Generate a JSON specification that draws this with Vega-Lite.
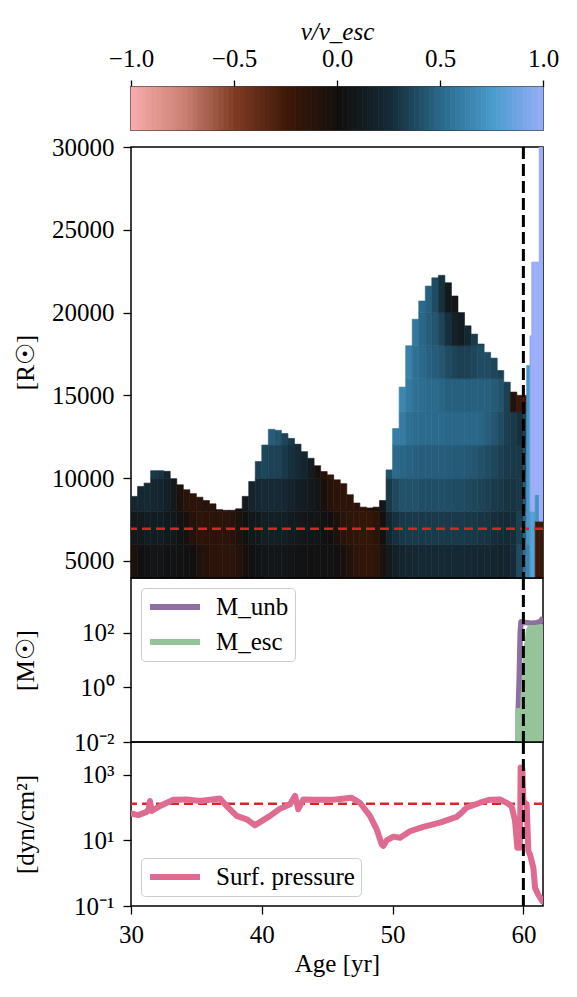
{
"$schema": "https://vega.github.io/schema/vega-lite/v6.json",
"padding": {"left": 12, "top": 18, "right": 5, "bottom": 5},
"spacing": 17,
"bounds": "flush",
"config": {
 "font": "Liberation Serif",
 "view": {"stroke": "black", "strokeWidth": 1.5},
 "axis": {"labelFontSize": 25, "titleFontSize": 25, "labelColor": "black", "titleColor": "black", "tickColor": "black", "tickWidth": 1.3, "tickSize": 8, "domain": false, "grid": false, "titleFontWeight": "normal", "labelPadding": 9, "labelFlush": false, "labelFont": "Liberation Serif", "titleFont": "Liberation Serif"},
 "legend": {"labelFontSize": 25, "labelFont": "Liberation Serif", "labelColor": "black"}
},
"datasets": {
 "cbar": [
{"a":-1,"b":-0.975},{"a":-0.975,"b":-0.95},{"a":-0.95,"b":-0.925},{"a":-0.925,"b":-0.9},{"a":-0.9,"b":-0.875},{"a":-0.875,"b":-0.85},{"a":-0.85,"b":-0.825},{"a":-0.825,"b":-0.8},{"a":-0.8,"b":-0.775},{"a":-0.775,"b":-0.75},
{"a":-0.75,"b":-0.725},{"a":-0.725,"b":-0.7},{"a":-0.7,"b":-0.675},{"a":-0.675,"b":-0.65},{"a":-0.65,"b":-0.625},{"a":-0.625,"b":-0.6},{"a":-0.6,"b":-0.575},{"a":-0.575,"b":-0.55},{"a":-0.55,"b":-0.525},{"a":-0.525,"b":-0.5},
{"a":-0.5,"b":-0.475},{"a":-0.475,"b":-0.45},{"a":-0.45,"b":-0.425},{"a":-0.425,"b":-0.4},{"a":-0.4,"b":-0.375},{"a":-0.375,"b":-0.35},{"a":-0.35,"b":-0.325},{"a":-0.325,"b":-0.3},{"a":-0.3,"b":-0.275},{"a":-0.275,"b":-0.25},
{"a":-0.25,"b":-0.225},{"a":-0.225,"b":-0.2},{"a":-0.2,"b":-0.175},{"a":-0.175,"b":-0.15},{"a":-0.15,"b":-0.125},{"a":-0.125,"b":-0.1},{"a":-0.1,"b":-0.075},{"a":-0.075,"b":-0.05},{"a":-0.05,"b":-0.025},{"a":-0.025,"b":0},
{"a":0,"b":0.025},{"a":0.025,"b":0.05},{"a":0.05,"b":0.075},{"a":0.075,"b":0.1},{"a":0.1,"b":0.125},{"a":0.125,"b":0.15},{"a":0.15,"b":0.175},{"a":0.175,"b":0.2},{"a":0.2,"b":0.225},{"a":0.225,"b":0.25},
{"a":0.25,"b":0.275},{"a":0.275,"b":0.3},{"a":0.3,"b":0.325},{"a":0.325,"b":0.35},{"a":0.35,"b":0.375},{"a":0.375,"b":0.4},{"a":0.4,"b":0.425},{"a":0.425,"b":0.45},{"a":0.45,"b":0.475},{"a":0.475,"b":0.5},
{"a":0.5,"b":0.525},{"a":0.525,"b":0.55},{"a":0.55,"b":0.575},{"a":0.575,"b":0.6},{"a":0.6,"b":0.625},{"a":0.625,"b":0.65},{"a":0.65,"b":0.675},{"a":0.675,"b":0.7},{"a":0.7,"b":0.725},{"a":0.725,"b":0.75},
{"a":0.75,"b":0.775},{"a":0.775,"b":0.8},{"a":0.8,"b":0.825},{"a":0.825,"b":0.85},{"a":0.85,"b":0.875},{"a":0.875,"b":0.9},{"a":0.9,"b":0.925},{"a":0.925,"b":0.95},{"a":0.95,"b":0.975},{"a":0.975,"b":1}
 ],
 "heat": [
{"a":30,"b":30.5,"r":3970,"s":6000,"v":-0.06},{"a":30,"b":30.5,"r":6000,"s":8000,"v":0.08},{"a":30,"b":30.5,"r":8000,"s":8900,"v":0.2},
{"a":30.5,"b":31,"r":3970,"s":6000,"v":0.02},{"a":30.5,"b":31,"r":6000,"s":8000,"v":0.1},{"a":30.5,"b":31,"r":8000,"s":9500,"v":0.22},
{"a":31,"b":31.5,"r":3970,"s":6000,"v":0.04},{"a":31,"b":31.5,"r":6000,"s":8000,"v":0.12},{"a":31,"b":31.5,"r":8000,"s":9700,"v":0.24},
{"a":31.5,"b":32,"r":3970,"s":6000,"v":0.05},{"a":31.5,"b":32,"r":6000,"s":8000,"v":0.12},{"a":31.5,"b":32,"r":8000,"s":10000,"v":0.22},{"a":31.5,"b":32,"r":10000,"s":10450,"v":0.3},
{"a":32,"b":32.5,"r":3970,"s":6000,"v":0.05},{"a":32,"b":32.5,"r":6000,"s":8000,"v":0.12},{"a":32,"b":32.5,"r":8000,"s":10000,"v":0.2},{"a":32,"b":32.5,"r":10000,"s":10450,"v":0.28},
{"a":32.5,"b":33,"r":3970,"s":6000,"v":0.04},{"a":32.5,"b":33,"r":6000,"s":8000,"v":0.1},{"a":32.5,"b":33,"r":8000,"s":10000,"v":0.15},{"a":32.5,"b":33,"r":10000,"s":10413,"v":0.2},
{"a":33,"b":33.5,"r":3970,"s":6000,"v":0.04},{"a":33,"b":33.5,"r":6000,"s":8000,"v":0.08},{"a":33,"b":33.5,"r":8000,"s":9970,"v":0.1},
{"a":33.5,"b":34,"r":3970,"s":6000,"v":0.03},{"a":33.5,"b":34,"r":6000,"s":8000,"v":0.04},{"a":33.5,"b":34,"r":8000,"s":9600,"v":-0.05},
{"a":34,"b":34.5,"r":3970,"s":6000,"v":0.02},{"a":34,"b":34.5,"r":6000,"s":8000,"v":-0.04},{"a":34,"b":34.5,"r":8000,"s":9300,"v":-0.13},
{"a":34.5,"b":35,"r":3970,"s":6000,"v":0},{"a":34.5,"b":35,"r":6000,"s":8000,"v":-0.11},{"a":34.5,"b":35,"r":8000,"s":9064,"v":-0.15},
{"a":35,"b":35.5,"r":3970,"s":6000,"v":-0.07},{"a":35,"b":35.5,"r":6000,"s":8000,"v":-0.15},{"a":35,"b":35.5,"r":8000,"s":8850,"v":-0.14},
{"a":35.5,"b":36,"r":3970,"s":6000,"v":-0.11},{"a":35.5,"b":36,"r":6000,"s":8000,"v":-0.15},{"a":35.5,"b":36,"r":8000,"s":8650,"v":-0.12},
{"a":36,"b":36.5,"r":3970,"s":6000,"v":-0.15},{"a":36,"b":36.5,"r":6000,"s":8000,"v":-0.15},{"a":36,"b":36.5,"r":8000,"s":8450,"v":-0.12},
{"a":36.5,"b":37,"r":3970,"s":6000,"v":-0.15},{"a":36.5,"b":37,"r":6000,"s":8000,"v":-0.15},{"a":36.5,"b":37,"r":8000,"s":8100,"v":-0.1},
{"a":37,"b":37.5,"r":3970,"s":6000,"v":-0.15},{"a":37,"b":37.5,"r":6000,"s":8000,"v":-0.14},{"a":37,"b":37.5,"r":8000,"s":8060,"v":-0.08},
{"a":37.5,"b":38,"r":3970,"s":6000,"v":-0.14},{"a":37.5,"b":38,"r":6000,"s":8000,"v":-0.12},{"a":37.5,"b":38,"r":8000,"s":8060,"v":-0.06},
{"a":38,"b":38.5,"r":3970,"s":6000,"v":-0.11},{"a":38,"b":38.5,"r":6000,"s":8000,"v":-0.07},{"a":38,"b":38.5,"r":8000,"s":8150,"v":-0.03},
{"a":38.5,"b":39,"r":3970,"s":6000,"v":-0.04},{"a":38.5,"b":39,"r":6000,"s":8000,"v":0.02},{"a":38.5,"b":39,"r":8000,"s":8900,"v":0.1},
{"a":39,"b":39.5,"r":3970,"s":6000,"v":0.02},{"a":39,"b":39.5,"r":6000,"s":8000,"v":0.08},{"a":39,"b":39.5,"r":8000,"s":9800,"v":0.18},
{"a":39.5,"b":40,"r":3970,"s":6000,"v":0.04},{"a":39.5,"b":40,"r":6000,"s":8000,"v":0.1},{"a":39.5,"b":40,"r":8000,"s":10000,"v":0.22},{"a":39.5,"b":40,"r":10000,"s":11000,"v":0.33},
{"a":40,"b":40.5,"r":3970,"s":6000,"v":0.06},{"a":40,"b":40.5,"r":6000,"s":8000,"v":0.13},{"a":40,"b":40.5,"r":8000,"s":10000,"v":0.24},{"a":40,"b":40.5,"r":10000,"s":12000,"v":0.36},
{"a":40.5,"b":41,"r":3970,"s":6000,"v":0.06},{"a":40.5,"b":41,"r":6000,"s":8000,"v":0.14},{"a":40.5,"b":41,"r":8000,"s":10000,"v":0.24},{"a":40.5,"b":41,"r":10000,"s":12000,"v":0.34},{"a":40.5,"b":41,"r":12000,"s":12950,"v":0.45},
{"a":41,"b":41.5,"r":3970,"s":6000,"v":0.06},{"a":41,"b":41.5,"r":6000,"s":8000,"v":0.14},{"a":41,"b":41.5,"r":8000,"s":10000,"v":0.24},{"a":41,"b":41.5,"r":10000,"s":12000,"v":0.34},{"a":41,"b":41.5,"r":12000,"s":12890,"v":0.42},
{"a":41.5,"b":42,"r":3970,"s":6000,"v":0.06},{"a":41.5,"b":42,"r":6000,"s":8000,"v":0.13},{"a":41.5,"b":42,"r":8000,"s":10000,"v":0.21},{"a":41.5,"b":42,"r":10000,"s":12000,"v":0.3},{"a":41.5,"b":42,"r":12000,"s":12700,"v":0.35},
{"a":42,"b":42.5,"r":3970,"s":6000,"v":0.05},{"a":42,"b":42.5,"r":6000,"s":8000,"v":0.11},{"a":42,"b":42.5,"r":8000,"s":10000,"v":0.18},{"a":42,"b":42.5,"r":10000,"s":12000,"v":0.27},{"a":42,"b":42.5,"r":12000,"s":12400,"v":0.3},
{"a":42.5,"b":43,"r":3970,"s":6000,"v":0.04},{"a":42.5,"b":43,"r":6000,"s":8000,"v":0.09},{"a":42.5,"b":43,"r":8000,"s":10000,"v":0.14},{"a":42.5,"b":43,"r":10000,"s":12000,"v":0.24},{"a":42.5,"b":43,"r":12000,"s":12050,"v":0.24},
{"a":43,"b":43.5,"r":3970,"s":6000,"v":0.03},{"a":43,"b":43.5,"r":6000,"s":8000,"v":0.07},{"a":43,"b":43.5,"r":8000,"s":10000,"v":0.12},{"a":43,"b":43.5,"r":10000,"s":11600,"v":0.2},
{"a":43.5,"b":44,"r":3970,"s":6000,"v":0.03},{"a":43.5,"b":44,"r":6000,"s":8000,"v":0.06},{"a":43.5,"b":44,"r":8000,"s":10000,"v":0.09},{"a":43.5,"b":44,"r":10000,"s":11200,"v":0.12},
{"a":44,"b":44.5,"r":3970,"s":6000,"v":0.03},{"a":44,"b":44.5,"r":6000,"s":8000,"v":0.05},{"a":44,"b":44.5,"r":8000,"s":10000,"v":0.05},{"a":44,"b":44.5,"r":10000,"s":10750,"v":-0.04},
{"a":44.5,"b":45,"r":3970,"s":6000,"v":0.03},{"a":44.5,"b":45,"r":6000,"s":8000,"v":0.03},{"a":44.5,"b":45,"r":8000,"s":10000,"v":-0.04},{"a":44.5,"b":45,"r":10000,"s":10400,"v":-0.11},
{"a":45,"b":45.5,"r":3970,"s":6000,"v":0.03},{"a":45,"b":45.5,"r":6000,"s":8000,"v":-0.01},{"a":45,"b":45.5,"r":8000,"s":10000,"v":-0.11},{"a":45,"b":45.5,"r":10000,"s":10200,"v":-0.15},
{"a":45.5,"b":46,"r":3970,"s":6000,"v":0.01},{"a":45.5,"b":46,"r":6000,"s":8000,"v":-0.07},{"a":45.5,"b":46,"r":8000,"s":9900,"v":-0.15},
{"a":46,"b":46.5,"r":3970,"s":6000,"v":-0.04},{"a":46,"b":46.5,"r":6000,"s":8000,"v":-0.13},{"a":46,"b":46.5,"r":8000,"s":9667,"v":-0.15},
{"a":46.5,"b":47,"r":3970,"s":6000,"v":-0.09},{"a":46.5,"b":47,"r":6000,"s":8000,"v":-0.16},{"a":46.5,"b":47,"r":8000,"s":9000,"v":-0.15},
{"a":47,"b":47.5,"r":3970,"s":6000,"v":-0.15},{"a":47,"b":47.5,"r":6000,"s":8000,"v":-0.18},{"a":47,"b":47.5,"r":8000,"s":8500,"v":-0.15},
{"a":47.5,"b":48,"r":3970,"s":6000,"v":-0.18},{"a":47.5,"b":48,"r":6000,"s":8000,"v":-0.19},{"a":47.5,"b":48,"r":8000,"s":8250,"v":-0.15},
{"a":48,"b":48.5,"r":3970,"s":6000,"v":-0.19},{"a":48,"b":48.5,"r":6000,"s":8000,"v":-0.19},{"a":48,"b":48.5,"r":8000,"s":8200,"v":-0.12},
{"a":48.5,"b":49,"r":3970,"s":6000,"v":-0.16},{"a":48.5,"b":49,"r":6000,"s":8000,"v":-0.15},{"a":48.5,"b":49,"r":8000,"s":8250,"v":-0.07},
{"a":49,"b":49.5,"r":3970,"s":6000,"v":-0.05},{"a":49,"b":49.5,"r":6000,"s":8000,"v":-0.03},{"a":49,"b":49.5,"r":8000,"s":8650,"v":0.06},
{"a":49.5,"b":50,"r":3970,"s":6000,"v":0.1},{"a":49.5,"b":50,"r":6000,"s":8000,"v":0.2},{"a":49.5,"b":50,"r":8000,"s":10000,"v":0.3},{"a":49.5,"b":50,"r":10000,"s":10500,"v":0.4},
{"a":50,"b":50.5,"r":3970,"s":6000,"v":0.16},{"a":50,"b":50.5,"r":6000,"s":8000,"v":0.27},{"a":50,"b":50.5,"r":8000,"s":10000,"v":0.37},{"a":50,"b":50.5,"r":10000,"s":12000,"v":0.5},{"a":50,"b":50.5,"r":12000,"s":13000,"v":0.6},
{"a":50.5,"b":51,"r":3970,"s":6000,"v":0.2},{"a":50.5,"b":51,"r":6000,"s":8000,"v":0.3},{"a":50.5,"b":51,"r":8000,"s":10000,"v":0.4},{"a":50.5,"b":51,"r":10000,"s":12000,"v":0.48},{"a":50.5,"b":51,"r":12000,"s":14000,"v":0.58},{"a":50.5,"b":51,"r":14000,"s":15500,"v":0.64},
{"a":51,"b":51.5,"r":3970,"s":6000,"v":0.22},{"a":51,"b":51.5,"r":6000,"s":8000,"v":0.31},{"a":51,"b":51.5,"r":8000,"s":10000,"v":0.4},{"a":51,"b":51.5,"r":10000,"s":12000,"v":0.47},{"a":51,"b":51.5,"r":12000,"s":14000,"v":0.53},{"a":51,"b":51.5,"r":14000,"s":16000,"v":0.58},{"a":51,"b":51.5,"r":16000,"s":18000,"v":0.62},
{"a":51.5,"b":52,"r":3970,"s":6000,"v":0.22},{"a":51.5,"b":52,"r":6000,"s":8000,"v":0.31},{"a":51.5,"b":52,"r":8000,"s":10000,"v":0.4},{"a":51.5,"b":52,"r":10000,"s":12000,"v":0.46},{"a":51.5,"b":52,"r":12000,"s":14000,"v":0.51},{"a":51.5,"b":52,"r":14000,"s":16000,"v":0.53},{"a":51.5,"b":52,"r":16000,"s":18000,"v":0.53},{"a":51.5,"b":52,"r":18000,"s":19600,"v":0.57},
{"a":52,"b":52.5,"r":3970,"s":6000,"v":0.23},{"a":52,"b":52.5,"r":6000,"s":8000,"v":0.31},{"a":52,"b":52.5,"r":8000,"s":10000,"v":0.39},{"a":52,"b":52.5,"r":10000,"s":12000,"v":0.45},{"a":52,"b":52.5,"r":12000,"s":14000,"v":0.5},{"a":52,"b":52.5,"r":14000,"s":16000,"v":0.52},{"a":52,"b":52.5,"r":16000,"s":18000,"v":0.5},{"a":52,"b":52.5,"r":18000,"s":20000,"v":0.49},{"a":52,"b":52.5,"r":20000,"s":20700,"v":0.5},
{"a":52.5,"b":53,"r":3970,"s":6000,"v":0.23},{"a":52.5,"b":53,"r":6000,"s":8000,"v":0.31},{"a":52.5,"b":53,"r":8000,"s":10000,"v":0.39},{"a":52.5,"b":53,"r":10000,"s":12000,"v":0.45},{"a":52.5,"b":53,"r":12000,"s":14000,"v":0.5},{"a":52.5,"b":53,"r":14000,"s":16000,"v":0.5},{"a":52.5,"b":53,"r":16000,"s":18000,"v":0.47},{"a":52.5,"b":53,"r":18000,"s":20000,"v":0.45},{"a":52.5,"b":53,"r":20000,"s":21600,"v":0.46},
{"a":53,"b":53.5,"r":3970,"s":6000,"v":0.23},{"a":53,"b":53.5,"r":6000,"s":8000,"v":0.31},{"a":53,"b":53.5,"r":8000,"s":10000,"v":0.39},{"a":53,"b":53.5,"r":10000,"s":12000,"v":0.45},{"a":53,"b":53.5,"r":12000,"s":14000,"v":0.5},{"a":53,"b":53.5,"r":14000,"s":16000,"v":0.5},{"a":53,"b":53.5,"r":16000,"s":18000,"v":0.45},{"a":53,"b":53.5,"r":18000,"s":20000,"v":0.42},{"a":53,"b":53.5,"r":20000,"s":22100,"v":0.38},
{"a":53.5,"b":54,"r":3970,"s":6000,"v":0.23},{"a":53.5,"b":54,"r":6000,"s":8000,"v":0.31},{"a":53.5,"b":54,"r":8000,"s":10000,"v":0.39},{"a":53.5,"b":54,"r":10000,"s":12000,"v":0.45},{"a":53.5,"b":54,"r":12000,"s":14000,"v":0.5},{"a":53.5,"b":54,"r":14000,"s":16000,"v":0.48},{"a":53.5,"b":54,"r":16000,"s":18000,"v":0.42},{"a":53.5,"b":54,"r":18000,"s":20000,"v":0.35},{"a":53.5,"b":54,"r":20000,"s":22250,"v":0.27},
{"a":54,"b":54.5,"r":3970,"s":6000,"v":0.23},{"a":54,"b":54.5,"r":6000,"s":8000,"v":0.31},{"a":54,"b":54.5,"r":8000,"s":10000,"v":0.39},{"a":54,"b":54.5,"r":10000,"s":12000,"v":0.45},{"a":54,"b":54.5,"r":12000,"s":14000,"v":0.49},{"a":54,"b":54.5,"r":14000,"s":16000,"v":0.46},{"a":54,"b":54.5,"r":16000,"s":18000,"v":0.38},{"a":54,"b":54.5,"r":18000,"s":20000,"v":0.27},{"a":54,"b":54.5,"r":20000,"s":21800,"v":0.1},
{"a":54.5,"b":55,"r":3970,"s":6000,"v":0.23},{"a":54.5,"b":55,"r":6000,"s":8000,"v":0.31},{"a":54.5,"b":55,"r":8000,"s":10000,"v":0.38},{"a":54.5,"b":55,"r":10000,"s":12000,"v":0.44},{"a":54.5,"b":55,"r":12000,"s":14000,"v":0.49},{"a":54.5,"b":55,"r":14000,"s":16000,"v":0.46},{"a":54.5,"b":55,"r":16000,"s":18000,"v":0.35},{"a":54.5,"b":55,"r":18000,"s":20000,"v":0.16},{"a":54.5,"b":55,"r":20000,"s":21000,"v":0.05},
{"a":55,"b":55.5,"r":3970,"s":6000,"v":0.23},{"a":55,"b":55.5,"r":6000,"s":8000,"v":0.31},{"a":55,"b":55.5,"r":8000,"s":10000,"v":0.38},{"a":55,"b":55.5,"r":10000,"s":12000,"v":0.44},{"a":55,"b":55.5,"r":12000,"s":14000,"v":0.49},{"a":55,"b":55.5,"r":14000,"s":16000,"v":0.46},{"a":55,"b":55.5,"r":16000,"s":18000,"v":0.33},{"a":55,"b":55.5,"r":18000,"s":20000,"v":0.12},
{"a":55.5,"b":56,"r":3970,"s":6000,"v":0.23},{"a":55.5,"b":56,"r":6000,"s":8000,"v":0.3},{"a":55.5,"b":56,"r":8000,"s":10000,"v":0.37},{"a":55.5,"b":56,"r":10000,"s":12000,"v":0.43},{"a":55.5,"b":56,"r":12000,"s":14000,"v":0.49},{"a":55.5,"b":56,"r":14000,"s":16000,"v":0.46},{"a":55.5,"b":56,"r":16000,"s":18000,"v":0.34},{"a":55.5,"b":56,"r":18000,"s":19200,"v":0.22},
{"a":56,"b":56.5,"r":3970,"s":6000,"v":0.22},{"a":56,"b":56.5,"r":6000,"s":8000,"v":0.3},{"a":56,"b":56.5,"r":8000,"s":10000,"v":0.36},{"a":56,"b":56.5,"r":10000,"s":12000,"v":0.42},{"a":56,"b":56.5,"r":12000,"s":14000,"v":0.49},{"a":56,"b":56.5,"r":14000,"s":16000,"v":0.46},{"a":56,"b":56.5,"r":16000,"s":18000,"v":0.36},{"a":56,"b":56.5,"r":18000,"s":18700,"v":0.3},
{"a":56.5,"b":57,"r":3970,"s":6000,"v":0.22},{"a":56.5,"b":57,"r":6000,"s":8000,"v":0.29},{"a":56.5,"b":57,"r":8000,"s":10000,"v":0.35},{"a":56.5,"b":57,"r":10000,"s":12000,"v":0.4},{"a":56.5,"b":57,"r":12000,"s":14000,"v":0.48},{"a":56.5,"b":57,"r":14000,"s":16000,"v":0.46},{"a":56.5,"b":57,"r":16000,"s":18000,"v":0.38},{"a":56.5,"b":57,"r":18000,"s":18100,"v":0.32},
{"a":57,"b":57.5,"r":3970,"s":6000,"v":0.21},{"a":57,"b":57.5,"r":6000,"s":8000,"v":0.28},{"a":57,"b":57.5,"r":8000,"s":10000,"v":0.33},{"a":57,"b":57.5,"r":10000,"s":12000,"v":0.38},{"a":57,"b":57.5,"r":12000,"s":14000,"v":0.45},{"a":57,"b":57.5,"r":14000,"s":16000,"v":0.46},{"a":57,"b":57.5,"r":16000,"s":17600,"v":0.38},
{"a":57.5,"b":58,"r":3970,"s":6000,"v":0.2},{"a":57.5,"b":58,"r":6000,"s":8000,"v":0.26},{"a":57.5,"b":58,"r":8000,"s":10000,"v":0.31},{"a":57.5,"b":58,"r":10000,"s":12000,"v":0.36},{"a":57.5,"b":58,"r":12000,"s":14000,"v":0.42},{"a":57.5,"b":58,"r":14000,"s":16000,"v":0.44},{"a":57.5,"b":58,"r":16000,"s":17250,"v":0.36},
{"a":58,"b":58.5,"r":3970,"s":6000,"v":0.19},{"a":58,"b":58.5,"r":6000,"s":8000,"v":0.25},{"a":58,"b":58.5,"r":8000,"s":10000,"v":0.3},{"a":58,"b":58.5,"r":10000,"s":12000,"v":0.33},{"a":58,"b":58.5,"r":12000,"s":14000,"v":0.38},{"a":58,"b":58.5,"r":14000,"s":16000,"v":0.41},{"a":58,"b":58.5,"r":16000,"s":16500,"v":0.33},
{"a":58.5,"b":59,"r":3970,"s":6000,"v":0.2},{"a":58.5,"b":59,"r":6000,"s":8000,"v":0.24},{"a":58.5,"b":59,"r":8000,"s":10000,"v":0.28},{"a":58.5,"b":59,"r":10000,"s":12000,"v":0.31},{"a":58.5,"b":59,"r":12000,"s":14000,"v":0.33},{"a":58.5,"b":59,"r":14000,"s":15800,"v":0.33},
{"a":59,"b":59.5,"r":3970,"s":6000,"v":0.25},{"a":59,"b":59.5,"r":6000,"s":8000,"v":0.26},{"a":59,"b":59.5,"r":8000,"s":10000,"v":0.28},{"a":59,"b":59.5,"r":10000,"s":12000,"v":0.3},{"a":59,"b":59.5,"r":12000,"s":14000,"v":0.3},{"a":59,"b":59.5,"r":14000,"s":15200,"v":-0.08},
{"a":59.5,"b":60,"r":3970,"s":6000,"v":0.38},{"a":59.5,"b":60,"r":6000,"s":8000,"v":0.33},{"a":59.5,"b":60,"r":8000,"s":10000,"v":0.3},{"a":59.5,"b":60,"r":10000,"s":12000,"v":0.3},{"a":59.5,"b":60,"r":12000,"s":14000,"v":0.27},{"a":59.5,"b":60,"r":14000,"s":15005,"v":-0.25},
{"a":60,"b":60.25,"r":3970,"s":6000,"v":0.52},{"a":60,"b":60.25,"r":6000,"s":8000,"v":0.48},{"a":60,"b":60.25,"r":8000,"s":10000,"v":0.43},{"a":60,"b":60.25,"r":10000,"s":12000,"v":0.38},{"a":60,"b":60.25,"r":12000,"s":14000,"v":0.33},{"a":60,"b":60.25,"r":14000,"s":15005,"v":-0.25},
{"a":60.25,"b":60.5,"r":3970,"s":6000,"v":0.62},{"a":60.25,"b":60.5,"r":6000,"s":16800,"v":0.72},
{"a":60.5,"b":60.63,"r":3970,"s":8000,"v":0.76},{"a":60.5,"b":60.63,"r":8000,"s":18600,"v":0.95},
{"a":60.63,"b":60.9,"r":3970,"s":8000,"v":0.8},{"a":60.63,"b":60.9,"r":8000,"s":23055,"v":1.0},
{"a":60.9,"b":61.2,"r":3970,"s":7400,"v":-0.25},{"a":60.9,"b":61.2,"r":7400,"s":9000,"v":0.7},{"a":60.9,"b":61.2,"r":9000,"s":23055,"v":1.0},
{"a":61.2,"b":61.52,"r":3970,"s":7400,"v":-0.25},{"a":61.2,"b":61.52,"r":7400,"s":30000,"v":1.0}
 ],
 "mass": [
{"age":59.6,"m":0.1,"series":"M_unb"},{"age":59.68,"m":2,"series":"M_unb"},{"age":59.76,"m":100,"series":"M_unb"},{"age":59.82,"m":250,"series":"M_unb"},{"age":60.0,"m":240,"series":"M_unb"},{"age":60.3,"m":230,"series":"M_unb"},{"age":60.6,"m":220,"series":"M_unb"},{"age":61.0,"m":230,"series":"M_unb"},{"age":61.3,"m":250,"series":"M_unb"},{"age":61.5,"m":350,"series":"M_unb"},
{"age":59.57,"m":0.01,"series":"M_esc"},{"age":59.58,"m":0.14,"series":"M_esc"},{"age":59.95,"m":0.14,"series":"M_esc"},{"age":60.0,"m":0.5,"series":"M_esc"},{"age":60.1,"m":3,"series":"M_esc"},{"age":60.25,"m":30,"series":"M_esc"},{"age":60.4,"m":120,"series":"M_esc"},{"age":60.5,"m":150,"series":"M_esc"},{"age":61.0,"m":155,"series":"M_esc"},{"age":61.5,"m":165,"series":"M_esc"}
 ],
 "press": [
{"age":30.0,"p":66},{"age":30.56,"p":59},{"age":31.2,"p":74},{"age":31.35,"p":90},{"age":31.45,"p":158},{"age":31.58,"p":79},{"age":32.22,"p":112},{"age":33.24,"p":174},{"age":34.26,"p":178},{"age":35.28,"p":158},{"age":36.8,"p":190},{"age":37.31,"p":112},{"age":38.08,"p":56},{"age":38.84,"p":44},{"age":39.48,"p":29},{"age":39.86,"p":36},{"age":40.63,"p":56},{"age":41.39,"p":93},{"age":42.16,"p":126},{"age":42.54,"p":229},{"age":42.79,"p":89},{"age":43.17,"p":178},{"age":43.94,"p":174},{"age":45.47,"p":174},{"age":46.87,"p":200},{"age":47.5,"p":141},{"age":48.27,"p":56},{"age":48.78,"p":22},{"age":49.17,"p":7.6},{"age":49.29,"p":6.8},{"age":49.55,"p":10},{"age":50.06,"p":13},{"age":50.57,"p":12},{"age":51.33,"p":19},{"age":52.35,"p":26},{"age":53.62,"p":35},{"age":54.9,"p":52},{"age":55.41,"p":79},{"age":55.66,"p":100},{"age":56.68,"p":141},{"age":57.45,"p":174},{"age":58.21,"p":178},{"age":58.72,"p":140},{"age":59.1,"p":110},{"age":59.36,"p":40},{"age":59.54,"p":6},{"age":59.74,"p":6},{"age":59.79,"p":1660},{"age":59.92,"p":1580},{"age":60.0,"p":158},{"age":60.25,"p":126},{"age":60.38,"p":4.8},{"age":60.5,"p":3.8},{"age":60.76,"p":1.5},{"age":60.9,"p":0.35},{"age":61.14,"p":0.22},{"age":61.45,"p":0.14}
 ]
},
"vconcat": [
 {
  "width": 412, "height": 43,
  "data": {"name": "cbar"},
  "mark": {"type": "rect", "strokeWidth": 0.8},
  "encoding": {
   "x": {"field": "a", "type": "quantitative", "scale": {"domain": [-1, 1], "nice": false}, "axis": {"orient": "top", "values": [-1, -0.5, 0, 0.5, 1], "format": ".1f", "labelExpr": "replace(datum.label, '-', '−')", "tickSize": 7, "labelPadding": 9, "title": "v/v_esc", "titleFontStyle": "italic", "titlePadding": 2}},
   "x2": {"field": "b"},
   "color": {"field": "a", "type": "quantitative", "scale": {"interpolate": "rgb", "domain": [-1, -0.75, -0.5, -0.25, 0, 0.25, 0.5, 0.75, 1], "range": ["#f7aaa9", "#c98073", "#7d3a22", "#3d1808", "#120f0e", "#152b37", "#2b6a8c", "#4a9ccd", "#9aaef9"]}, "legend": null},
   "stroke": {"field": "a", "type": "quantitative", "scale": {"interpolate": "rgb", "domain": [-1, -0.75, -0.5, -0.25, 0, 0.25, 0.5, 0.75, 1], "range": ["#f7aaa9", "#c98073", "#7d3a22", "#3d1808", "#120f0e", "#152b37", "#2b6a8c", "#4a9ccd", "#9aaef9"]}, "legend": null}
  }
 },
 {
  "spacing": 0,
  "bounds": "flush",
  "vconcat": [
 {
  "width": 412, "height": 431,
  "layer": [
   {
    "data": {"name": "heat"},
    "mark": {"type": "rect", "strokeWidth": 0.6, "clip": true},
    "encoding": {
     "x": {"field": "a", "type": "quantitative", "scale": {"domain": [30, 61.5], "nice": false, "zero": false}, "axis": null},
     "x2": {"field": "b"},
     "y": {"field": "r", "type": "quantitative", "scale": {"domain": [3970, 30000], "nice": false, "zero": false}, "axis": {"values": [5000, 10000, 15000, 20000, 25000, 30000], "format": "d", "title": "[R☉]", "titleX": -106, "titleY": 215, "titleAngle": -90, "titleBaseline": "middle", "titleAlign": "center"}},
     "y2": {"field": "s"},
     "color": {"field": "v", "type": "quantitative", "scale": {"interpolate": "rgb", "domain": [-1, -0.75, -0.5, -0.25, 0, 0.25, 0.5, 0.75, 1], "range": ["#f7aaa9", "#c98073", "#7d3a22", "#3d1808", "#120f0e", "#152b37", "#2b6a8c", "#4a9ccd", "#9aaef9"]}, "legend": null},
     "stroke": {"field": "v", "type": "quantitative", "scale": {"interpolate": "rgb", "domain": [-1, -0.75, -0.5, -0.25, 0, 0.25, 0.5, 0.75, 1], "range": ["#f7aaa9", "#c98073", "#7d3a22", "#3d1808", "#120f0e", "#152b37", "#2b6a8c", "#4a9ccd", "#9aaef9"]}, "legend": null}
    }
   },
   {"data": {"values": [{}]}, "mark": {"type": "rule", "color": "#d62728", "strokeWidth": 2.5, "strokeDash": [9, 5]}, "encoding": {"y": {"datum": 6950}}},
   {"data": {"values": [{}]}, "mark": {"type": "rule", "color": "black", "strokeWidth": 3, "strokeDash": [12, 5]}, "encoding": {"x": {"datum": 60}}}
  ]
 },
 {
  "width": 412, "height": 164,
  "layer": [
   {
    "data": {"name": "mass"},
    "transform": [{"filter": "datum.series == 'M_esc'"}],
    "mark": {"type": "area", "color": "#97c39b", "clip": true},
    "encoding": {
     "x": {"field": "age", "type": "quantitative", "scale": {"domain": [30, 61.5], "nice": false, "zero": false}, "axis": null},
     "y": {"field": "m", "type": "quantitative", "scale": {"type": "log", "domain": [0.01, 10000], "nice": false}, "axis": {"values": [0.01, 1, 100], "labelExpr": "datum.value == 100 ? '10²' : datum.value == 1 ? '10⁰' : '10⁻²'", "title": "[M☉]", "titleX": -106, "titleY": 82, "titleAngle": -90, "titleBaseline": "middle", "titleAlign": "center"}},
     "y2": {"datum": 0.01}
    }
   },
   {
    "data": {"name": "mass"},
    "mark": {"type": "line", "strokeWidth": 5.5, "clip": true, "strokeJoin": "round"},
    "encoding": {
     "x": {"field": "age", "type": "quantitative"},
     "y": {"field": "m", "type": "quantitative"},
     "color": {"field": "series", "type": "nominal", "scale": {"domain": ["M_unb", "M_esc"], "range": ["#8e6fa1", "#97c39b"]},
      "legend": {"orient": "top-left", "offset": 10, "title": null, "symbolType": "M-2.5,0H2.5", "symbolStrokeWidth": 6, "symbolSize": 400, "symbolOffset": 15, "strokeColor": "#cccccc", "cornerRadius": 4, "padding": 6, "fillColor": "white", "labelFontSize": 25, "rowPadding": 9, "labelOffset": 28}}
    }
   },
   {"data": {"values": [{}]}, "mark": {"type": "rule", "color": "black", "strokeWidth": 3, "strokeDash": [12, 5]}, "encoding": {"x": {"datum": 60}}}
  ]
 },
 {
  "width": 412, "height": 164,
  "layer": [
   {"data": {"values": [{}]}, "mark": {"type": "rule", "color": "#d62728", "strokeWidth": 2.5, "strokeDash": [9, 5]}, "encoding": {"y": {"datum": 130, "type": "quantitative", "scale": {"type": "log", "domain": [0.1, 10000], "nice": false}}}},
   {
    "data": {"name": "press"},
    "transform": [{"calculate": "'Surf. pressure'", "as": "series"}],
    "mark": {"type": "line", "strokeWidth": 6, "clip": true, "strokeJoin": "round", "strokeCap": "round"},
    "encoding": {
     "x": {"field": "age", "type": "quantitative", "scale": {"domain": [30, 61.5], "nice": false, "zero": false}, "axis": {"values": [30, 40, 50, 60], "title": "Age [yr]", "labelPadding": 8, "titlePadding": 4}},
     "y": {"field": "p", "type": "quantitative", "axis": {"values": [0.1, 10, 1000], "labelExpr": "datum.value == 1000 ? '10³' : datum.value == 10 ? '10¹' : '10⁻¹'", "title": "[dyn/cm²]", "titleX": -106, "titleY": 82, "titleAngle": -90, "titleBaseline": "middle", "titleAlign": "center"}},
     "color": {"field": "series", "type": "nominal", "scale": {"range": ["#df6c90"]},
      "legend": {"orient": "bottom-left", "offset": 10, "title": null, "symbolType": "M-2.5,0H2.5", "symbolStrokeWidth": 6, "symbolSize": 400, "symbolOffset": 15, "strokeColor": "#cccccc", "cornerRadius": 4, "padding": 6, "fillColor": "white", "labelFontSize": 25, "labelOffset": 28}}
    }
   },
   {"data": {"values": [{}]}, "mark": {"type": "rule", "color": "black", "strokeWidth": 3, "strokeDash": [12, 5]}, "encoding": {"x": {"datum": 60}}}
  ]
 }
  ]
 }
]
}
